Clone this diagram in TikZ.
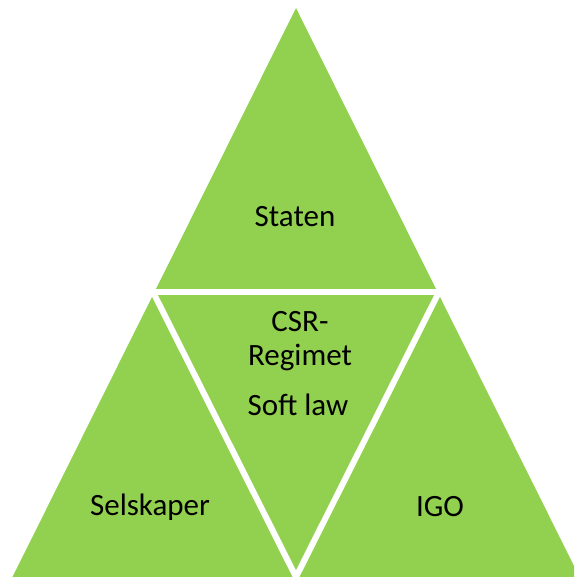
\documentclass[tikz,border=0pt]{standalone}
\usepackage{fontspec}
\setmainfont{Carlito}
\usetikzlibrary{calc}
\definecolor{leaf}{HTML}{92D050}
\tikzset{
  divider/.style={draw=white, line width=6pt, line cap=butt},
  label/.style={font=\fontsize{31}{36}\selectfont, text=black, inner sep=0pt}
}
\begin{document}
\begin{tikzpicture}[x=1pt, y=-1pt]
  \useasboundingbox (0,0) rectangle (574,577);
  \clip (0,0) rectangle (574,577);
  % outer green triangle
  \fill[leaf] (296,8) -- (583,584) -- (9,584) -- cycle;
  % white dividers splitting it into four triangles
  \coordinate (ml) at (140,292);
  \coordinate (mr) at (452,292);
  \coordinate (cl) at (153,292);
  \coordinate (cr) at (439,292);
  \coordinate (bot) at (296,577);
  \draw[divider] (ml) -- (mr);
  \draw[divider] ($(cl)!-0.05!(bot)$) -- ($(cl)!1.05!(bot)$);
  \draw[divider] ($(cr)!-0.05!(bot)$) -- ($(cr)!1.05!(bot)$);
  % labels
  \node[label] (staten) at (295,217) {Staten};
  \node[label] (csr) at (300,322) {CSR-};
  \node[label] (regimet) at (300,357) {Regimet};
  \node[label] (soft) at (298,405) {Soft law};
  \node[label] (selskaper) at (150,507) {Selskaper};
  \node[label] (igo) at (440,507) {IGO};
\end{tikzpicture}
\end{document}
